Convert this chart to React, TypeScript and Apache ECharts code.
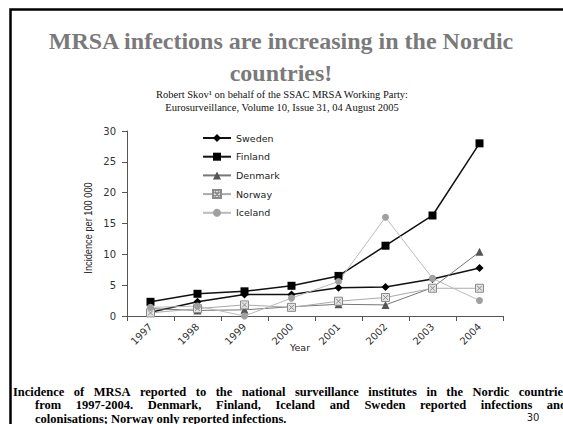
import React, { useEffect, useRef } from 'react';
import * as echarts from 'echarts';

// Incidence of MRSA per 100 000 inhabitants, 1997-2004
const years = ['1997', '1998', '1999', '2000', '2001', '2002', '2003', '2004'];
const sweden = [0.6, 2.3, 3.5, 3.5, 4.6, 4.7, 6.0, 7.8];
const finland = [2.3, 3.6, 4.0, 4.9, 6.5, 11.4, 16.3, 28.0];
const denmark = [1.2, 0.9, 1.0, 1.5, 1.9, 1.8, 4.6, 10.4];
const norway = [0.5, 1.2, 1.8, 1.4, 2.4, 3.0, 4.5, 4.5];
const iceland = [1.4, 1.6, 0.0, 2.9, 5.6, 16.0, 6.1, 2.5];

const yTicks = { min: 0, max: 30, interval: 5 };

const titleLines = ['MRSA infections are increasing in the Nordic', 'countries!'];
const sourceLines = [
  'Robert Skov\u00B9 on behalf of the SSAC MRSA Working Party:',
  'Eurosurveillance, Volume 10, Issue 31, 04 August 2005',
];
const captionLines = [
  'Incidence of MRSA reported to the national surveillance institutes in the Nordic countries',
  'from 1997-2004. Denmark, Finland, Iceland and Sweden reported infections and',
  'colonisations; Norway only reported infections.',
];

const SERIF = 'Liberation Serif';
const SANS = 'DejaVu Sans';
const CAPTION_SIZE = 12.5;

// Spread the words of a line evenly between x0 and x1
function justifiedLine(text: string, size: number, x0: number, x1: number, y: number) {
  const ctx = document.createElement('canvas').getContext('2d')!;
  ctx.font = `bold ${size}px "${SERIF}"`;
  const words = text.split(' ');
  const widths = words.map((w) => ctx.measureText(w).width);
  const total = widths.reduce((a, b) => a + b, 0);
  const space = ctx.measureText(' ').width;
  const gap = Math.max(space, (x1 - x0 - total) / (words.length - 1));
  let x = x0;
  return words.map((w, i) => {
    const el = {
      type: 'text',
      x,
      y,
      style: {
        text: w,
        fontFamily: SERIF,
        fontWeight: 'bold',
        fontSize: size,
        lineHeight: 12,
        fill: '#000',
        textAlign: 'left',
        textVerticalAlign: 'middle',
      },
    };
    x += widths[i] + gap;
    return el;
  });
}

function label(
  text: string,
  x: number,
  y: number,
  family: string,
  size: number,
  fill: string,
  weight = 'normal',
  align = 'center'
) {
  return {
    type: 'text',
    x,
    y,
    style: {
      text,
      fontFamily: family,
      fontSize: size,
      fontWeight: weight,
      fill,
      textAlign: align,
      textVerticalAlign: 'middle',
    },
  };
}

export default function App() {
  const ref = useRef<HTMLDivElement>(null);

  useEffect(() => {
    const chart = echarts.init(ref.current!, null, { renderer: 'svg', width: 563, height: 424 });

    const lineSeries = (
      name: string,
      data: number[],
      symbol: string,
      symbolSize: number,
      lineColor: string,
      lineWidth: number,
      item: Record<string, unknown>
    ) => ({
      name,
      type: 'line',
      data,
      symbol,
      symbolSize,
      showSymbol: true,
      lineStyle: { color: lineColor, width: lineWidth },
      itemStyle: item,
      emphasis: { disabled: true },
    });

    const yName = label('Incidence per 100 000', 88, 228, 'Liberation Sans', 11, '#222');
    (yName as any).rotation = Math.PI / 2;
    (yName as any).scaleX = 0.84;

    const option = {
      animation: false,
      backgroundColor: '#fff',
      grid: { left: 127, right: 60, top: 131, bottom: 108 },
      legend: {
        orient: 'vertical',
        left: 197,
        top: 128,
        itemWidth: 28,
        itemHeight: 10,
        itemGap: 8.7,
        textStyle: { fontFamily: SANS, fontSize: 9.5, color: '#222', lineHeight: 10 },
        data: ['Sweden', 'Finland', 'Denmark', 'Norway', 'Iceland'],
      },
      xAxis: {
        type: 'category',
        data: years,
        boundaryGap: true,
        axisLine: { lineStyle: { color: '#555', width: 1 } },
        axisTick: { show: true, length: 5, lineStyle: { color: '#555' } },
        axisLabel: { rotate: 45, fontFamily: SANS, fontSize: 10, color: '#333', margin: 9, interval: 0 },
        splitLine: { show: false },
      },
      yAxis: {
        type: 'value',
        min: yTicks.min,
        max: yTicks.max,
        interval: yTicks.interval,
        axisLine: { show: true, lineStyle: { color: '#555', width: 1 } },
        axisTick: { show: true, length: 5, lineStyle: { color: '#555' } },
        axisLabel: { fontFamily: SANS, fontSize: 10, color: '#333', margin: 11 },
        splitLine: { show: false },
      },
      series: [
        lineSeries('Sweden', sweden, 'diamond', 8, '#111', 1.5, { color: '#000' }),
        lineSeries('Finland', finland, 'rect', 8, '#111', 1.5, { color: '#000' }),
        lineSeries('Denmark', denmark, 'triangle', 8, '#777', 1, { color: '#555' }),
        lineSeries(
          'Norway',
          norway,
          'path://M0,0H10V10H0ZM2,2L8,8M8,2L2,8',
          8,
          '#aaa',
          1,
          { color: '#e4e4e4', borderColor: '#8a8a8a', borderWidth: 1 }
        ),
        lineSeries('Iceland', iceland, 'circle', 7, '#bbb', 1, { color: '#a0a0a0' }),
      ],
      graphic: [
        // slide frame
        {
          type: 'rect',
          shape: { x: 10.5, y: 9.5, width: 700, height: 600 },
          style: { fill: 'none', stroke: '#000', lineWidth: 2.5 },
          silent: true,
        },
        label(titleLines[0], 281, 41, SERIF, 24, '#7a7a7a', 'bold'),
        label(titleLines[1], 281, 73, SERIF, 24, '#7a7a7a', 'bold'),
        label(sourceLines[0], 282, 94, SERIF, 10.5, '#111'),
        label(sourceLines[1], 282, 107, SERIF, 10.5, '#111'),
        yName,
        label('Year', 300, 347, SANS, 9.5, '#222'),
        ...justifiedLine(captionLines[0], CAPTION_SIZE, 13, 568, 391.5),
        ...justifiedLine(captionLines[1], CAPTION_SIZE, 35, 567, 405),
        {
          type: 'text',
          x: 35,
          y: 419,
          style: {
            text: captionLines[2],
            fontFamily: SERIF,
            fontWeight: 'bold',
            fontSize: CAPTION_SIZE,
            lineHeight: 12,
            fill: '#000',
            textVerticalAlign: 'middle',
          },
        },
        label('30', 533, 417, SANS, 10, '#222'),
      ],
    };

    chart.setOption(option as any);
    return () => chart.dispose();
  }, []);

  return (
    <div
      ref={ref}
      style={{ position: 'fixed', left: 0, top: 0, width: 563, height: 424, background: '#fff', overflow: 'hidden' }}
    />
  );
}
